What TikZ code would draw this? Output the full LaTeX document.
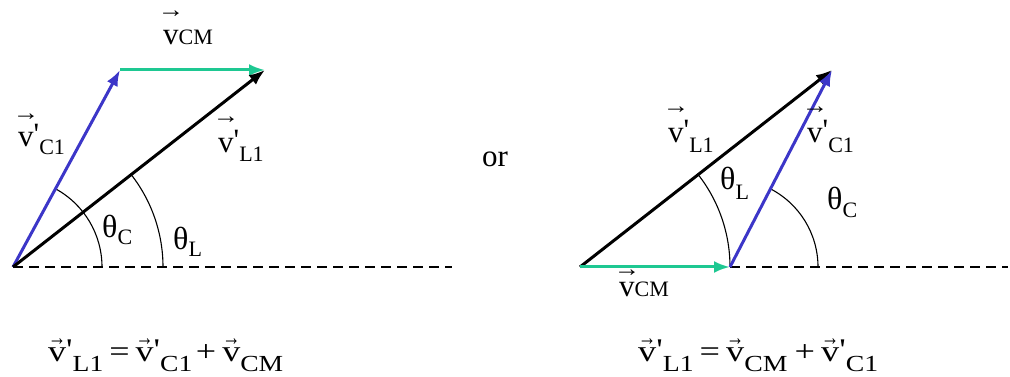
\documentclass[tikz,border=0pt]{standalone}
\usepackage{fontspec}
\setmainfont{Liberation Serif}
\usetikzlibrary{arrows.meta}
\definecolor{vblue}{RGB}{60,54,200}
\definecolor{vgreen}{RGB}{30,200,146}
\newcommand\fsz[1]{\fontsize{#1}{#1}\selectfont}
% v with an arrow above: #1 height of arrow centre above baseline, #2 horizontal scale, #3 vertical scale
\newcommand\arv[3]{\leavevmode\setbox0\hbox{v}%
  \setbox2\hbox{\scalebox{#2}[#3]{→}}%
  \hbox to \wd0{\hss\raise\dimexpr #1-(\ht2-\dp2)/2\relax\hbox{\smash{\box2}}\hss}%
  \kern-\wd0 v}
\newcommand\pr{\raisebox{2pt}{\textquotesingle}}
\newcommand\sub[2]{\raisebox{-#1}{\fsz{22}#2}}
\newcommand\esub[1]{\raisebox{-10pt}{\fsz{23}#1}}
\newcommand\earv{\arv{20pt}{0.5}{0.8}}
\newcommand\larv[1]{\arv{#1}{0.85}{0.75}}
\begin{document}
\begin{tikzpicture}[x=1pt,y=1pt,
  vec/.style={line width=3pt,-{Latex[length=16pt,width=12pt]}},
  base/.style={dash pattern=on 10pt off 6pt,line width=1.3pt},
  ang/.style={line width=1.1pt},
  lbl/.style={inner sep=0pt,anchor=base west},
  every node/.style={font=\fsz{31}}]
\useasboundingbox (0,0) rectangle (1010,377);
% left diagram
\coordinate (O1) at (13,110);
\coordinate (B1) at (120,307);
\coordinate (T1) at (265,307);
\coordinate (E1) at (452,110);
\draw[base] (O1) -- (E1);
\draw[ang] (O1) ++(89,0) arc[start angle=0,end angle=61.5,radius=89];
\draw[ang] (O1) ++(150,0) arc[start angle=0,end angle=38,radius=150];
\draw[vec,vblue] (O1) -- (B1);
\draw[vec,vgreen] (B1) -- (T1);
\draw[vec,black] (O1) -- (T1);
\node[lbl] (lcm) at (163,332) {\larv{31pt}\fsz{22}CM};
\node[lbl] (lc1) at (18,230) {\larv{30pt}\pr\sub{8pt}{C1}};
\node[lbl] (ll1) at (218,224) {\larv{33pt}\pr\sub{9pt}{L1}};
\node[lbl] (lthc) at (102,139) {\fsz{32}θ\sub{7pt}{C}};
\node[lbl] (lthl) at (173,127) {\fsz{32}θ\sub{7pt}{L}};
% or
\node[lbl] (or) at (482,210) {or};
% right diagram
\coordinate (O2) at (580,110);
\coordinate (G2) at (730,110);
\coordinate (T2) at (832,307);
\coordinate (E2) at (1008,110);
\draw[base] (G2) -- (E2);
\draw[ang] (O2) ++(150,0) arc[start angle=0,end angle=38,radius=150];
\draw[ang] (G2) ++(88,0) arc[start angle=0,end angle=62.6,radius=88];
\draw[vec,black] (O2) -- (T2);
\draw[vec,vblue] (G2) -- (T2);
\draw[vec,vgreen] (O2) -- (G2);
\node[lbl] (rl1) at (668,234) {\larv{33pt}\pr\sub{10pt}{L1}};
\node[lbl] (rc1) at (807,234) {\larv{33pt}\pr\sub{10pt}{C1}};
\node[lbl] (rthl) at (720,187) {\fsz{32}θ\sub{10pt}{L}};
\node[lbl] (rthc) at (827,167) {\fsz{32}θ\sub{8pt}{C}};
\node[lbl] (rcm) at (619,80) {\larv{24pt}\fsz{22}CM};
% equations
\node[lbl] (eq1) at (48,15) {\resizebox{235pt}{\height}{\fsz{30}\earv\pr\esub{L1}\hspace{5pt}=\hspace{5pt}\earv\pr\esub{C1}\hspace{3pt}+\hspace{5pt}\earv\esub{CM}}};
\node[lbl] (eq2) at (638,15) {\resizebox{240pt}{\height}{\fsz{30}\earv\pr\esub{L1}\hspace{5pt}=\hspace{5pt}\earv\esub{CM}\hspace{6pt}+\hspace{5pt}\earv\pr\esub{C1}}};
\end{tikzpicture}
\end{document}
